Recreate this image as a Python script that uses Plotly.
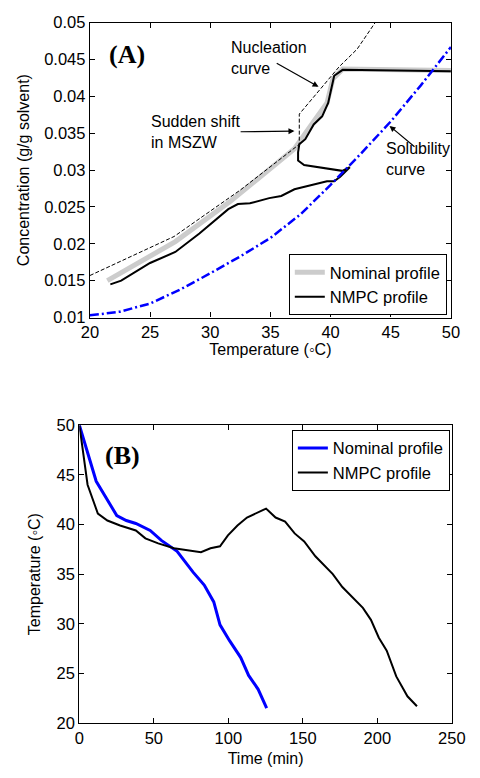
import plotly.graph_objects as go

# ---------- Panel A data ----------
sol_T = [20, 22.5, 25, 27.5, 30, 32.5, 35, 37.5, 40, 42.5, 45, 47.5, 50]
sol_C = [0.0103, 0.0108, 0.0119, 0.0138, 0.0160, 0.0183, 0.0208, 0.0240, 0.0280, 0.0322, 0.0366, 0.0415, 0.0467]

nuc_T = [20, 27, 32.5, 37.4, 37.4, 40.7, 42.2, 43.7]
nuc_C = [0.0157, 0.0210, 0.0273, 0.0335, 0.0376, 0.0440, 0.0464, 0.0500]

nom_T = [21.45, 27.1, 31.7, 37.0, 38.6, 39.7, 40.2, 41.0, 50]
nom_C = [0.0150, 0.0203, 0.0258, 0.0329, 0.0366, 0.0391, 0.0424, 0.0437, 0.0435]

nmpc_T = [21.7, 22.6, 25.0, 27.1, 29.1, 31.5, 32.3, 33.3, 34.9, 35.9, 37.0, 38.6, 39.7, 40.3, 40.8, 41.6,
          40.97, 37.8, 37.3, 37.3, 37.4, 37.9, 38.6, 39.3, 39.8, 40.0, 40.3, 41.0, 50]
nmpc_C = [0.0145, 0.0150, 0.0174, 0.0189, 0.0214, 0.0247, 0.0254, 0.0255, 0.0262, 0.0265, 0.0274, 0.0280, 0.0285, 0.0285, 0.0291, 0.0304,
          0.0299, 0.0307, 0.0313, 0.0324, 0.0335, 0.0342, 0.0362, 0.0373, 0.0391, 0.0406, 0.0428, 0.0436, 0.0434]

# ---------- Panel B data ----------
nomB_t = [0, 11.3, 25.1, 31.5, 37.9, 47.5, 55, 65.6, 76.3, 83.8, 90.2, 94.4, 100.8, 108.3, 113.6, 120, 125.7]
nomB_T = [50, 44.35, 40.9, 40.4, 40.1, 39.4, 38.4, 37.3, 35.2, 33.9, 32.2, 29.9, 28.3, 26.6, 24.8, 23.4, 21.5]

nmpcB_t = [0, 5.5, 12.4, 18.8, 27.3, 37.9, 44.3, 52.9, 63.5, 72, 81.6, 88, 94.4, 99.7, 106.1, 112.5, 121, 125.3,
           131.7, 138.1, 144.5, 150.9, 158.4, 170.1, 176.5, 182.9, 190.3, 195.7, 201, 206.3, 212.7, 220.2, 226.6]
nmpcB_T = [50, 44.0, 41.1, 40.4, 39.9, 39.4, 38.6, 38.1, 37.6, 37.4, 37.2, 37.6, 37.8, 38.9, 39.9, 40.7, 41.3, 41.6,
           40.7, 40.3, 39.1, 38.3, 36.8, 35.0, 33.7, 32.7, 31.6, 30.4, 28.6, 27.3, 24.7, 22.7, 21.7]

A_xticks = [20, 25, 30, 35, 40, 45, 50]
A_yticks = [0.01, 0.015, 0.02, 0.025, 0.03, 0.035, 0.04, 0.045, 0.05]
A_yticktext = ["0.01", "0.015", "0.02", "0.025", "0.03", "0.035", "0.04", "0.045", "0.05"]
B_xticks = [0, 50, 100, 150, 200, 250]
B_yticks = [20, 25, 30, 35, 40, 45, 50]

FONT = "Liberation Sans, Arial, sans-serif"
SERIF = "Liberation Serif, Times New Roman, serif"

fig = go.Figure()

fig.add_trace(go.Scatter(x=nom_T, y=nom_C, mode="lines", name="Nominal profile",
                         line=dict(color="#cccccc", width=5), xaxis="x", yaxis="y", legend="legend"))
fig.add_trace(go.Scatter(x=nmpc_T, y=nmpc_C, mode="lines", name="NMPC profile",
                         line=dict(color="black", width=2), xaxis="x", yaxis="y", legend="legend"))
fig.add_trace(go.Scatter(x=nuc_T, y=nuc_C, mode="lines", showlegend=False,
                         line=dict(color="black", width=1, dash="4px,2px"), xaxis="x", yaxis="y"))
fig.add_trace(go.Scatter(x=sol_T, y=sol_C, mode="lines", showlegend=False,
                         line=dict(color="#0000ff", width=2.5, dash="9px,3px,2px,3px"), xaxis="x", yaxis="y"))

fig.add_trace(go.Scatter(x=nomB_t, y=nomB_T, mode="lines", name="Nominal profile",
                         line=dict(color="#0000ff", width=3), xaxis="x2", yaxis="y2", legend="legend2"))
fig.add_trace(go.Scatter(x=nmpcB_t, y=nmpcB_T, mode="lines", name="NMPC profile",
                         line=dict(color="black", width=2), xaxis="x2", yaxis="y2", legend="legend2"))

axis_common = dict(showgrid=False, zeroline=False, showline=True, linecolor="black", linewidth=1.2,
                   mirror="ticks", ticks="inside", ticklen=5, tickcolor="black",
                   tickfont=dict(family=FONT, size=16.5, color="black"))

fig.update_layout(
    width=480, height=778, margin=dict(l=0, r=0, t=0, b=0),
    paper_bgcolor="white", plot_bgcolor="white",
    font=dict(family=FONT, color="black"),
    xaxis=dict(domain=[0.177, 0.967], range=[20, 50], tickvals=A_xticks, anchor="y",
               title=dict(text="Temperature (◦C)", font=dict(size=16), standoff=0), **axis_common),
    yaxis=dict(domain=[0.594, 0.982], range=[0.01, 0.05], tickvals=A_yticks, ticktext=A_yticktext, anchor="x",
               title=dict(text="Concentration (g/g solvent)", font=dict(size=16), standoff=10), **axis_common),
    xaxis2=dict(domain=[0.154, 0.969], range=[0, 250], tickvals=B_xticks, anchor="y2",
                title=dict(text="Time (min)", font=dict(size=16), standoff=6), **axis_common),
    yaxis2=dict(domain=[0.0604, 0.4524], range=[20, 50], tickvals=B_yticks, anchor="x2",
                title=dict(text="Temperature (◦C)", font=dict(size=16), standoff=12), **axis_common),
    legend=dict(x=0.958, y=0.6375, xanchor="right", yanchor="middle", bgcolor="white",
                bordercolor="black", borderwidth=1, font=dict(family=FONT, size=16.5),
                itemwidth=30, tracegroupgap=0),
    legend2=dict(x=0.9647, y=0.4062, xanchor="right", yanchor="middle", bgcolor="white",
                 bordercolor="black", borderwidth=1, font=dict(family=FONT, size=16.5),
                 itemwidth=30, tracegroupgap=0),
)

ann_font = dict(family=FONT, size=16, color="black")
annotations = [
    dict(x=21.4, y=0.0457, xref="x", yref="y", text="<b>(A)</b>", showarrow=False,
         font=dict(family=SERIF, size=26, color="black"), xanchor="left"),
    dict(x=16.0, y=46.9, xref="x2", yref="y2", text="<b>(B)</b>", showarrow=False,
         font=dict(family=SERIF, size=26, color="black"), xanchor="left"),
    dict(x=31.6, y=0.0452, xref="x", yref="y", text="Nucleation<br>curve", showarrow=False,
         xanchor="left", align="left", font=ann_font),
    dict(x=24.9, y=0.0352, xref="x", yref="y", text="Sudden shift<br>in MSZW", showarrow=False,
         xanchor="left", align="left", font=ann_font),
    dict(x=44.4, y=0.0315, xref="x", yref="y", text="Solubility<br>curve", showarrow=False,
         xanchor="left", align="left", font=ann_font),
    # arrows
    dict(x=39.0, y=0.0413, ax=35.4, ay=0.0446, xref="x", yref="y", axref="x", ayref="y",
         text="", showarrow=True, arrowhead=2, arrowsize=1, arrowwidth=1.2, arrowcolor="black"),
    dict(x=37.0, y=0.0353, ax=32.4, ay=0.0352, xref="x", yref="y", axref="x", ayref="y",
         text="", showarrow=True, arrowhead=2, arrowsize=1, arrowwidth=1.2, arrowcolor="black"),
    dict(x=44.9, y=0.0360, ax=47.1, ay=0.0330, xref="x", yref="y", axref="x", ayref="y",
         text="", showarrow=True, arrowhead=2, arrowsize=1, arrowwidth=1.2, arrowcolor="black"),
]
fig.update_layout(annotations=annotations)

fig.write_html("out.html")
